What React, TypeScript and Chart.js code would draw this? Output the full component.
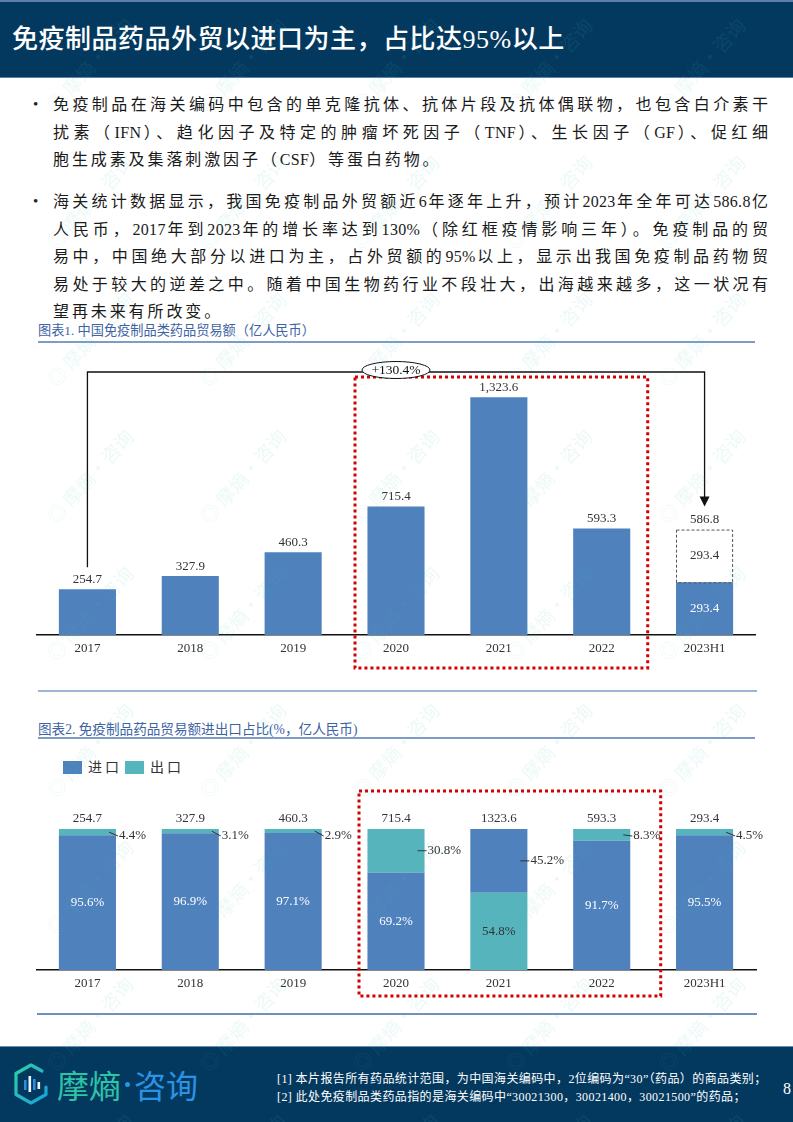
import React, { useEffect, useRef } from "react";
import { Chart, registerables } from "chart.js";

Chart.register(...registerables);

// ---------- data ----------
const categories = ["2017", "2018", "2019", "2020", "2021", "2022", "2023H1"];
const tradeValues = [254.7, 327.9, 460.3, 715.4, 1323.6, 593.3, 293.4];
const tradeLabels = ["254.7", "327.9", "460.3", "715.4", "1,323.6", "593.3", "293.4"];
const forecastExtra = [0, 0, 0, 0, 0, 0, 293.4];
const forecastTotal = 586.8;
const growthLabel = "+130.4%";

const totals2 = [254.7, 327.9, 460.3, 715.4, 1323.6, 593.3, 293.4];
const bottomShare = [95.6, 96.9, 97.1, 69.2, 54.8, 91.7, 95.5];
const topShare = [4.4, 3.1, 2.9, 30.8, 45.2, 8.3, 4.5];
const bottomIsImport = [true, true, true, true, false, true, true];
const legendLabels = ["进口", "出口"];

const titleText = "免疫制品药品外贸以进口为主，占比达95%以上";
const bullet1 = [
  "免疫制品在海关编码中包含的单克隆抗体、抗体片段及抗体偶联物，也包含白介素干",
  "扰素（IFN）、趋化因子及特定的肿瘤坏死因子（TNF）、生长因子（GF）、促红细",
  "胞生成素及集落刺激因子（CSF）等蛋白药物。",
];
const bullet2 = [
  "海关统计数据显示，我国免疫制品外贸额近6年逐年上升，预计2023年全年可达586.8亿",
  "人民币，2017年到2023年的增长率达到130%（除红框疫情影响三年）。免疫制品的贸",
  "易中，中国绝大部分以进口为主，占外贸额的95%以上，显示出我国免疫制品药物贸",
  "易处于较大的逆差之中。随着中国生物药行业不段壮大，出海越来越多，这一状况有",
  "望再未来有所改变。",
];
const caption1 = "图表1. 中国免疫制品类药品贸易额（亿人民币）";
const caption2 = "图表2. 免疫制品药品贸易额进出口占比(%，亿人民币)";
const footnotes = [
  "[1] 本片报告所有药品统计范围，为中国海关编码中，2位编码为“30”（药品）的商品类别；",
  "[2] 此处免疫制品类药品指的是海关编码中“30021300，30021400，30021500”的药品；",
];

// ---------- styles ----------
const SERIF = "'Liberation Serif', 'Noto Sans CJK SC', serif";
const CJK = "'Liberation Serif', 'Noto Sans CJK SC', sans-serif";
const BLUE = "#4f81bd";
const TEAL = "#56b4bd";
const NAVY = "#04395f";
const TEXT = "#333333";

function Chart1() {
  const ref = useRef<HTMLCanvasElement>(null);
  useEffect(() => {
    const overlay = {
      id: "overlay1",
      afterDatasetsDraw(chart: any) {
        const ctx = chart.ctx;
        const m0 = chart.getDatasetMeta(0).data as any[];
        const m1 = chart.getDatasetMeta(1).data as any[];
        ctx.save();
        ctx.font = `13px ${SERIF}`;
        ctx.textAlign = "center";
        ctx.textBaseline = "middle";
        for (let i = 0; i < 6; i++) {
          ctx.fillStyle = TEXT;
          ctx.fillText(tradeLabels[i], m0[i].x, m0[i].y - 10);
        }
        const b = m0[6];
        const f = m1[6];
        ctx.fillStyle = "#ffffff";
        ctx.fillText(tradeLabels[6], b.x, (b.y + b.base) / 2);
        ctx.setLineDash([3, 2]);
        ctx.strokeStyle = "#555";
        ctx.lineWidth = 1;
        ctx.strokeRect(f.x - f.width / 2 + 0.5, f.y + 0.5, f.width - 1, f.base - f.y);
        ctx.fillStyle = TEXT;
        ctx.fillText(forecastExtra[6].toFixed(1), f.x, (f.y + f.base) / 2);
        ctx.fillText(forecastTotal.toFixed(1), f.x, f.y - 10);
        const x3 = m0[3].x;
        const x5 = m0[5].x;
        ctx.setLineDash([3, 3]);
        ctx.strokeStyle = "#d40000";
        ctx.lineWidth = 3;
        ctx.strokeRect(x3 - 41, 32, x5 + 46 - (x3 - 41), 291);
        ctx.setLineDash([]);
        ctx.strokeStyle = "#111";
        ctx.lineWidth = 1.3;
        const lineY = 27;
        ctx.beginPath();
        ctx.moveTo(m0[0].x, m0[0].y - 22);
        ctx.lineTo(m0[0].x, lineY);
        ctx.lineTo(f.x, lineY);
        ctx.lineTo(f.x, f.y - 32);
        ctx.stroke();
        ctx.fillStyle = "#111";
        ctx.beginPath();
        ctx.moveTo(f.x, f.y - 23);
        ctx.lineTo(f.x - 5, f.y - 33);
        ctx.lineTo(f.x + 5, f.y - 33);
        ctx.closePath();
        ctx.fill();
        ctx.beginPath();
        ctx.ellipse(x3, 25, 34, 8.5, 0, 0, Math.PI * 2);
        ctx.fillStyle = "#fff";
        ctx.fill();
        ctx.lineWidth = 1;
        ctx.stroke();
        ctx.fillStyle = "#111";
        ctx.font = `13.5px ${SERIF}`;
        ctx.fillText(growthLabel, x3, 25);
        ctx.restore();
      },
    };
    const c = new Chart(ref.current as HTMLCanvasElement, {
      type: "bar",
      data: {
        labels: categories,
        datasets: [
          { data: tradeValues, backgroundColor: BLUE, stack: "s", barPercentage: 0.555, categoryPercentage: 1 },
          { data: forecastExtra, backgroundColor: "rgba(255,255,255,0.9)", stack: "s", barPercentage: 0.555, categoryPercentage: 1 },
        ],
      },
      options: {
        responsive: false,
        animation: false,
        layout: { padding: 0 },
        plugins: { legend: { display: false }, tooltip: { enabled: false } },
        scales: {
          x: {
            stacked: true,
            grid: { display: false, drawTicks: false },
            border: { display: true, color: "#111", width: 1.5 },
            ticks: { font: { family: SERIF, size: 13 }, color: TEXT, padding: 6 },
            afterFit: (s: any) => {
              s.height = 45;
            },
          },
          y: { stacked: true, display: false, min: 0, max: 1614 },
        },
      },
      plugins: [overlay],
    } as any);
    return () => c.destroy();
  }, []);
  return (
    <canvas
      ref={ref}
      width={720}
      height={335}
      style={{ position: "absolute", left: 36, top: 345, width: 720, height: 335 }}
    />
  );
}

function Chart2() {
  const ref = useRef<HTMLCanvasElement>(null);
  useEffect(() => {
    const overlay = {
      id: "overlay2",
      afterDatasetsDraw(chart: any) {
        const ctx = chart.ctx;
        const m0 = chart.getDatasetMeta(0).data as any[];
        const m1 = chart.getDatasetMeta(1).data as any[];
        ctx.save();
        ctx.font = `13px ${SERIF}`;
        ctx.textBaseline = "middle";
        for (let i = 0; i < categories.length; i++) {
          const b = m0[i];
          const t = m1[i];
          ctx.textAlign = "center";
          ctx.fillStyle = TEXT;
          ctx.fillText(totals2[i].toFixed(1), t.x, t.y - 10);
          ctx.fillStyle = bottomIsImport[i] ? "#ffffff" : TEXT;
          ctx.fillText(bottomShare[i].toFixed(1) + "%", b.x, (b.y + b.base) / 2);
          const right = t.x + t.width / 2;
          const mid = (t.y + t.base) / 2;
          const ty = Math.max(mid, t.y + 7);
          ctx.strokeStyle = "#333";
          ctx.lineWidth = 1;
          ctx.beginPath();
          ctx.moveTo(right - 7, mid);
          ctx.lineTo(right + 2, ty);
          ctx.stroke();
          ctx.textAlign = "left";
          ctx.fillStyle = TEXT;
          ctx.fillText(topShare[i].toFixed(1) + "%", right + 3, ty);
        }
        const x3 = m0[3].x;
        const x5 = m0[5].x;
        ctx.setLineDash([3, 3]);
        ctx.strokeStyle = "#d40000";
        ctx.lineWidth = 3;
        ctx.strokeRect(x3 - 37, 6, x5 + 59 - (x3 - 37), 205);
        ctx.restore();
      },
    };
    const c = new Chart(ref.current as HTMLCanvasElement, {
      type: "bar",
      data: {
        labels: categories,
        datasets: [
          {
            label: legendLabels[0],
            data: bottomShare,
            backgroundColor: bottomIsImport.map((v) => (v ? BLUE : TEAL)),
            barPercentage: 0.555,
            categoryPercentage: 1,
          },
          {
            label: legendLabels[1],
            data: topShare,
            backgroundColor: bottomIsImport.map((v) => (v ? TEAL : BLUE)),
            barPercentage: 0.555,
            categoryPercentage: 1,
          },
        ],
      },
      options: {
        responsive: false,
        animation: false,
        layout: { padding: { top: 44, left: 0, right: 50, bottom: 0 } },
        plugins: { legend: { display: false }, tooltip: { enabled: false } },
        scales: {
          x: {
            stacked: true,
            grid: { display: false, drawTicks: false },
            border: { display: true, color: "#111", width: 1.5 },
            ticks: { font: { family: SERIF, size: 13 }, color: TEXT, padding: 6 },
            afterFit: (s: any) => {
              s.height = 30;
            },
          },
          y: { stacked: true, display: false, min: 0, max: 100 },
        },
      },
      plugins: [overlay],
    } as any);
    return () => c.destroy();
  }, []);
  return (
    <canvas
      ref={ref}
      width={770}
      height={215}
      style={{ position: "absolute", left: 36, top: 785, width: 770, height: 215 }}
    />
  );
}

function RichLine({ text }: { text: string }) {
  const parts = text.split(/([A-Za-z0-9.%]+)/);
  return (
    <>
      {parts.map((p, i) =>
        /^[A-Za-z0-9.%]+$/.test(p) ? (
          <span key={i} style={{ letterSpacing: 0.3 }}>
            {p}
          </span>
        ) : (
          <span key={i}>{p}</span>
        )
      )}
    </>
  );
}

function Para({ lines, top }: { lines: string[]; top: number }) {
  const lh = 27.6;
  return (
    <div style={{ position: "absolute", left: 0, top, width: 793 }}>
      <div style={{ position: "absolute", left: 33, top: 0, fontSize: 15, lineHeight: `${lh}px`, color: "#222" }}>•</div>
      {lines.map((l, i) => {
        const last = i === lines.length - 1;
        return (
          <div
            key={i}
            style={{
              position: "absolute",
              left: 53,
              top: i * lh,
              width: 717,
              height: lh,
              lineHeight: `${lh}px`,
              fontSize: 16,
              color: "#1a1a1a",
              whiteSpace: "nowrap",
              letterSpacing: last ? 2.9 : 2,
              textAlign: last ? "left" : "justify",
              textAlignLast: last ? "left" : "justify",
            } as any}
          >
            <RichLine text={l} />
          </div>
        );
      })}
    </div>
  );
}

function Logo() {
  return (
    <div style={{ position: "absolute", left: 12, top: 1062, height: 44, display: "flex", alignItems: "center" }}>
      <svg width="38" height="42" viewBox="0 0 38 42">
        <defs>
          <linearGradient id="lg" x1="0" y1="0" x2="1" y2="1">
            <stop offset="0" stopColor="#2fd0a8" />
            <stop offset="1" stopColor="#1a9fd8" />
          </linearGradient>
        </defs>
        <path d="M30 8 L19 2 L4 10.5 L4 31.5 L19 40 L34 31.5 L34 24" fill="none" stroke="url(#lg)" strokeWidth="3.2" strokeLinecap="round" strokeLinejoin="round" />
        <rect x="12" y="17" width="2.6" height="10" fill="#2a8fe0" />
        <rect x="16.5" y="13" width="2.6" height="16" fill="#e8f6ff" />
        <rect x="21" y="16" width="2.6" height="11" fill="#2a8fe0" />
        <rect x="25.5" y="19" width="2.6" height="7" fill="#e8f6ff" />
      </svg>
      <div style={{ marginLeft: 7, fontFamily: "'Noto Sans CJK SC', sans-serif", fontSize: 32, lineHeight: "40px", whiteSpace: "nowrap", display: "flex", alignItems: "center" }}>
        <span style={{ color: "#2ec4a6" }}>摩熵</span>
        <span style={{ display: "inline-block", width: 5, height: 5, borderRadius: 3, background: "#2a93e4", margin: "0 4px" }} />
        <span style={{ color: "#2a93e4" }}>咨询</span>
      </div>
    </div>
  );
}

function Watermarks() {
  const items: { x: number; y: number }[] = [];
  for (let r = -1; r < 9; r++) {
    for (let c = 0; c < 6; c++) {
      items.push({ x: 50 + c * 153, y: 109 + r * 137 });
    }
  }
  return (
    <div style={{ position: "absolute", left: 0, top: 0, width: 793, height: 1122, overflow: "hidden", pointerEvents: "none" }}>
      {items.map((p, i) => (
        <div
          key={i}
          style={{
            position: "absolute",
            left: p.x,
            top: p.y - 11,
            transform: "rotate(-48deg)",
            transformOrigin: "0 50%",
            whiteSpace: "nowrap",
            fontFamily: "'Noto Sans CJK SC', sans-serif",
            fontSize: 19,
            lineHeight: "22px",
            color: "rgba(70,200,175,0.10)",
          }}
        >
          ◎ 摩熵·咨询
        </div>
      ))}
    </div>
  );
}

export default function App() {
  return (
    <div
      style={{
        position: "absolute",
        left: 0,
        top: 0,
        width: 793,
        height: 1122,
        background: "#fff",
        overflow: "hidden",
        fontFamily: CJK,
      }}
    >
      <div
        style={{
          position: "absolute",
          left: 0,
          top: 0,
          width: 793,
          height: 75,
          background: NAVY,
          borderTop: "2px solid #5f7fab",
          borderBottom: "1px solid #5f7fab",
        }}
      />
      <div
        style={{
          position: "absolute",
          left: 12,
          top: 22,
          height: 36,
          lineHeight: "36px",
          fontSize: 26,
          letterSpacing: 0.5,
          color: "#fff",
          whiteSpace: "nowrap",
          fontWeight: 500,
        }}
      >
        {titleText}
      </div>

      <Para lines={bullet1} top={91} />
      <Para lines={bullet2} top={188} />

      <div style={{ position: "absolute", left: 38, top: 322, fontSize: 13.2, lineHeight: "18px", color: "#3e63a2", whiteSpace: "nowrap" }}>
        {caption1}
      </div>
      <div style={{ position: "absolute", left: 38, top: 341, width: 717, height: 1.5, background: "#7f9cc8" }} />

      <Chart1 />

      <div style={{ position: "absolute", left: 38, top: 690, width: 719, height: 1.5, background: "#9fb3d3" }} />

      <div style={{ position: "absolute", left: 38, top: 721, fontSize: 13.6, lineHeight: "18px", color: "#3e63a2", whiteSpace: "nowrap" }}>
        {caption2}
      </div>
      <div style={{ position: "absolute", left: 38, top: 737, width: 717, height: 1.5, background: "#7f9cc8" }} />

      <div style={{ position: "absolute", left: 63, top: 761, width: 19, height: 13, background: BLUE }} />
      <div style={{ position: "absolute", left: 88, top: 758, fontSize: 14, lineHeight: "19px", color: TEXT, letterSpacing: 3 }}>
        {legendLabels[0]}
      </div>
      <div style={{ position: "absolute", left: 125, top: 761, width: 19, height: 13, background: TEAL }} />
      <div style={{ position: "absolute", left: 150, top: 758, fontSize: 14, lineHeight: "19px", color: TEXT, letterSpacing: 3 }}>
        {legendLabels[1]}
      </div>

      <Chart2 />

      <div style={{ position: "absolute", left: 37, top: 1013, width: 720, height: 1.5, background: "#7090c0" }} />

      <div
        style={{
          position: "absolute",
          left: 0,
          top: 1046,
          width: 793,
          height: 76,
          background: NAVY,
          borderTop: "1.5px solid #6d8db8",
        }}
      />
      <Logo />
      {footnotes.map((f, i) => (
        <div
          key={i}
          style={{
            position: "absolute",
            left: 277,
            top: 1070 + i * 18,
            fontSize: 12,
            lineHeight: "18px",
            color: "#fff",
            whiteSpace: "nowrap",
            letterSpacing: 0.4,
            fontFamily: SERIF,
          }}
        >
          {f}
        </div>
      ))}
      <div style={{ position: "absolute", left: 783, top: 1079, fontSize: 16, lineHeight: "20px", color: "#fff", fontFamily: SERIF }}>8</div>

      <Watermarks />
    </div>
  );
}
